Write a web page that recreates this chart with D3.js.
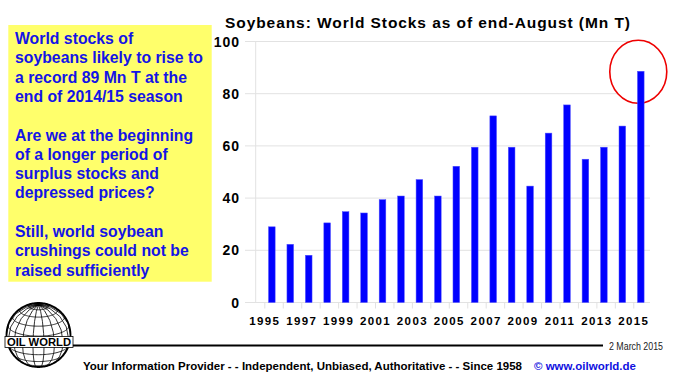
<!DOCTYPE html>
<meta charset="utf-8">
<script src="https://d3js.org/d3.v7.min.js"></script>
<style>
	body{
		margin:0;
		font-family: 'Liberation Sans', Arial, sans-serif;
		background:#fff;
	}
</style>
<div id="chart"></div>
<script>
	// end-August world soybean stocks, Mn T
	var years = ["1995","1996","1997","1998","1999","2000","2001","2002","2003","2004","2005","2006","2007","2008","2009","2010","2011","2012","2013","2014","2015"]
	var stocks = [29.0,22.3,18.1,30.5,34.8,34.3,39.4,40.8,47.1,40.8,52.2,59.5,71.5,59.5,44.6,64.9,75.7,54.9,59.5,67.6,88.6]
	var yTicks = [0,20,40,60,80,100]
	var xLabels = ["1995","1997","1999","2001","2003","2005","2007","2009","2011","2013","2015"]
	var noteLines = ["World stocks of","soybeans likely to rise to","a record 89 Mn T at the","end of 2014/15 season","","Are we at the beginning","of a longer period of","surplus stocks and","depressed prices?","","Still, world soybean","crushings could not be","raised sufficiently"]

	var w = 675
	var h = 376
	var svg = d3.select("#chart").append("svg").attr("width",w).attr("height",h)

	var x = d3.scaleBand().domain(years).range([262.6,650]).paddingInner(0.64).paddingOuter(0.32)
	var y = d3.scaleLinear().domain([0,100]).range([302.5,41.5])

	// grid
	svg.append("g").selectAll("line").data(yTicks).join("line")
		.attr("x1",245).attr("x2",650)
		.attr("y1",function(d){return y(d)}).attr("y2",function(d){return y(d)})
		.attr("stroke","#e2e2e2").attr("stroke-width",1)
	svg.append("line").attr("x1",255.7).attr("x2",255.7).attr("y1",y(100)).attr("y2",y(0))
		.attr("stroke","#e2e2e2")

	// x ticks
	svg.append("g").selectAll("line").data(years).join("line")
		.attr("x1",function(d){return x(d)+x.bandwidth()/2-7}).attr("x2",function(d){return x(d)+x.bandwidth()/2-7})
		.attr("y1",y(0)).attr("y2",y(0)+6)
		.attr("stroke","#e2e2e2")

	svg.append("g").selectAll("text").data(yTicks).join("text")
		.attr("x",240).attr("y",function(d){return y(d)+5})
		.attr("text-anchor","end")
		.style("font-size","14px").style("font-weight","bold").style("letter-spacing","1px")
		.text(function(d){return d})

	svg.append("g").selectAll("text").data(xLabels).join("text")
		.attr("x",function(d){return x(d)+x.bandwidth()/2-7}).attr("y",324.5)
		.attr("text-anchor","middle")
		.style("font-size","11.5px").style("font-weight","bold").style("letter-spacing","1.4px")
		.text(function(d){return d})

	// red circle behind the record bar
	var last = years[years.length-1]
	svg.append("ellipse")
		.attr("cx",x(last)+x.bandwidth()/2-2.5).attr("cy",71.7)
		.attr("rx",28.5).attr("ry",31.5)
		.attr("fill","#fff").attr("stroke","#ee0000").attr("stroke-width",1.6)

	svg.append("g").selectAll("rect").data(years).join("rect")
		.attr("x",function(d){return x(d)})
		.attr("width",x.bandwidth())
		.attr("y",function(d,i){return y(stocks[i])})
		.attr("height",function(d,i){return y(0)-y(stocks[i])})
		.attr("fill","#0000ff").attr("stroke","#5050ff").attr("stroke-width",0.5)

	svg.append("text").text("Soybeans: World Stocks as of end-August (Mn T)")
		.attr("x",225).attr("y",28.3)
		.attr("textLength",405).attr("lengthAdjust","spacing")
		.style("font-size","15.5px").style("font-weight","bold")

	// yellow note
	svg.append("rect").attr("x",8.3).attr("y",25).attr("width",203.4).attr("height",256.7).attr("fill","#ffff6b")
	svg.append("g").selectAll("text").data(noteLines).join("text")
		.attr("x",15).attr("y",function(d,i){return 44+i*19.3})
		.style("font-size","15.8px").style("font-weight","bold").attr("fill","#1414e6")
		.text(function(d){return d})

	// footer
	svg.append("line").attr("x1",73).attr("x2",603).attr("y1",345.5).attr("y2",345.5)
		.attr("stroke","#000").attr("stroke-width",2)
	svg.append("text").text("2 March 2015").attr("x",609).attr("y",350)
		.attr("textLength",54).attr("lengthAdjust","spacingAndGlyphs")
		.style("font-size","10px").attr("fill","#222")
	svg.append("text").text("Your Information Provider - - Independent, Unbiased, Authoritative - - Since 1958")
		.attr("x",83).attr("y",370).attr("textLength",439).attr("lengthAdjust","spacingAndGlyphs")
		.style("font-size","11px").style("font-weight","bold")
	svg.append("text").text("\u00a9 www.oilworld.de")
		.attr("x",534).attr("y",370).attr("textLength",102).attr("lengthAdjust","spacingAndGlyphs")
		.style("font-size","11px").style("font-weight","bold").attr("fill","#1010e0")

	// logo globe
	var projection = d3.geoOrthographic().rotate([-10,-20]).scale(32).translate([38.5,335]).clipAngle(90)
	var gpath = d3.geoPath().projection(projection)
	var logo = svg.append("g")
	logo.append("path").datum({type:"Sphere"}).attr("d",gpath).attr("fill","#fff").attr("stroke","#000").attr("stroke-width",1.8)
	logo.append("path").datum(d3.geoGraticule().step([20,18])()).attr("d",gpath)
		.attr("fill","none").attr("stroke","#000").attr("stroke-width",0.8)
	logo.append("rect").attr("x",5).attr("y",336.5).attr("width",68).attr("height",11).attr("fill","#fff").attr("stroke","#000").attr("stroke-width",0.8)
	logo.append("text").text("OIL WORLD").attr("x",39).attr("y",346).attr("text-anchor","middle")
		.attr("textLength",64).attr("lengthAdjust","spacingAndGlyphs")
		.style("font-size","11px").style("font-weight","bold")
</script>
